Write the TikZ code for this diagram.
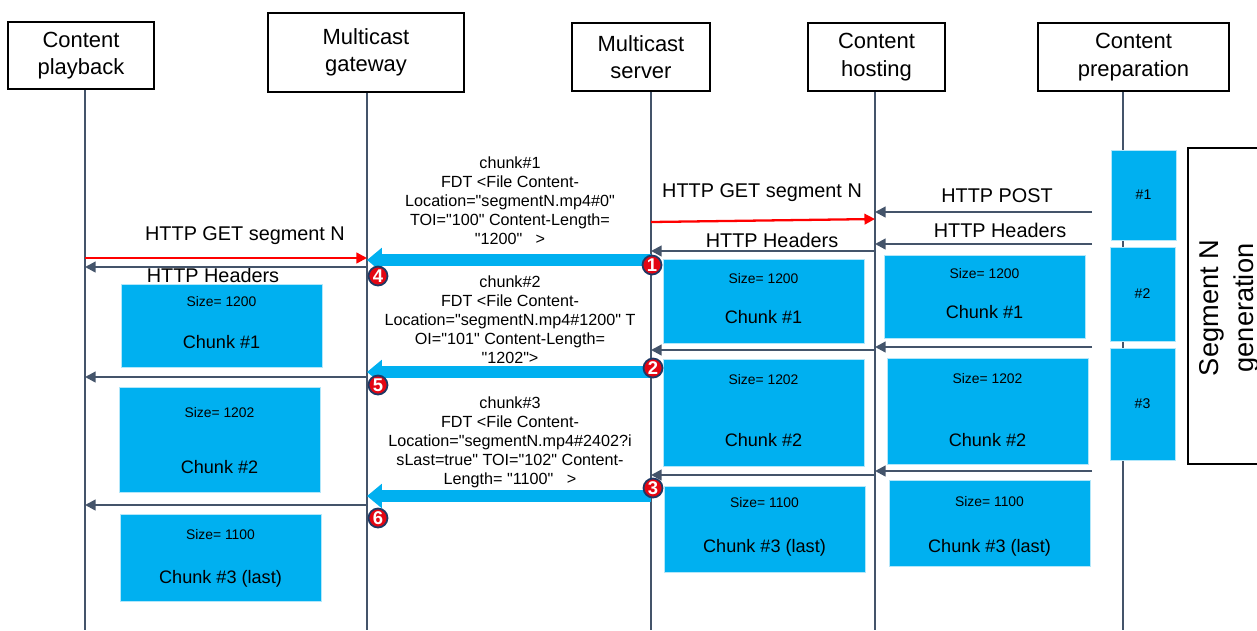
\documentclass[tikz,border=0pt]{standalone}
\usepackage{fontspec}
\setmainfont{Liberation Sans}[Ligatures=TeXOff]
\usetikzlibrary{arrows.meta}

\definecolor{lifegray}{HTML}{44546A}
\definecolor{chunkblue}{HTML}{00B0F0}
\definecolor{numred}{HTML}{E30613}
\definecolor{numnavy}{HTML}{1F3864}

\begin{document}
\begin{tikzpicture}[x=0.02cm,y=-0.02cm,
  head/.style={draw,line width=1.2pt,align=center,font=\fontsize{12.5}{15.5}\selectfont},
  life/.style={draw=lifegray,line width=1.2pt},
  msg/.style={draw=lifegray,line width=1.3pt,-{Triangle[length=6pt,width=6pt]}},
  req/.style={draw=red,line width=1.3pt,-{Triangle[length=6pt,width=6pt]}},
  push/.style={draw=chunkblue,line width=7pt,-{Triangle[length=8.5pt,width=13.5pt]}},
  lbl/.style={font=\fontsize{11.3}{13}\selectfont},
  fdt/.style={align=center,font=\fontsize{9.2}{10.8}\selectfont},
  chunk/.style={fill=chunkblue,draw=chunkblue!30,line width=0.5pt,minimum width=4.02cm},
  sz/.style={font=\fontsize{7.9}{9}\selectfont},
  ck/.style={font=\fontsize{10.3}{12}\selectfont},
  part/.style={fill=chunkblue,draw=chunkblue!30,line width=0.5pt,minimum width=1.3cm,font=\fontsize{8}{9}\selectfont},
  num/.style={circle,fill=numred,draw=numnavy,line width=1pt,text=white,inner sep=0pt,minimum size=0.38cm,font=\bfseries\fontsize{10.5}{10.5}\selectfont}]
\path[fill=white,use as bounding box] (0,0) rectangle (1257,630);

% headers
\node[head,minimum width=2.92cm,minimum height=1.34cm] (playback) at (81,55.5) {Content\\playback};
\node[head,minimum width=3.92cm,minimum height=1.58cm] (gateway) at (366,52.5) {Multicast\\gateway};
\node[head,minimum width=2.76cm,minimum height=1.36cm] (server) at (641,57) {Multicast\\server};
\node[head,minimum width=2.74cm,minimum height=1.36cm] (hosting) at (876.5,57) {Content\\hosting};
\node[head,minimum width=3.82cm,minimum height=1.36cm] (prep) at (1133.5,57) {Content\\preparation};

% lifelines
\coordinate (lp) at (85,630);
\coordinate (lg) at (367,630);
\coordinate (ls) at (651,630);
\coordinate (lh) at (875,630);
\coordinate (lc) at (1123,630);
\coordinate (le) at (1092,630);
\draw[life] (playback.south -| lp) -- (lp);
\draw[life] (gateway.south -| lg) -- (lg);
\draw[life] (server.south -| ls) -- (ls);
\draw[life] (hosting.south -| lh) -- (lh);
\draw[life] (prep.south -| lc) -- (lc);

% segment N generation
\node[part,minimum height=1.80cm] (p1) at (1143.5,195) {\#1};
\node[part,minimum height=1.88cm] (p2) at (1142.5,294) {\#2};
\node[part,minimum height=2.24cm] (p3) at (1142.5,404) {\#3};
\node[draw,line width=1.2pt,minimum width=1.84cm,minimum height=6.32cm] (gen) at (1234,306) {};
\node[rotate=90,align=center,font=\fontsize{15.5}{19.8}\selectfont] (gentext) at (1229,308) {Segment N\\generation};

% chunks at playback
\node[chunk,minimum height=1.66cm] (pc1) at (221.5,325.5) {};
\node[sz] at (221.5,302) {Size= 1200};
\node[ck] at (221.5,342) {Chunk \#1};
\node[chunk,minimum height=2.10cm] (pc2) at (219.5,439.5) {};
\node[sz] at (219.5,413) {Size= 1202};
\node[ck] at (219.5,467) {Chunk \#2};
\node[chunk,minimum height=1.74cm] (pc3) at (220.5,557.5) {};
\node[sz] at (220.5,535) {Size= 1100};
\node[ck] at (220.5,579) {Chunk \#3 (last)};

% chunks at server
\node[chunk,minimum height=1.68cm] (sc1) at (763.5,301) {};
\node[sz] at (763.5,279) {Size= 1200};
\node[ck] at (763.5,317) {Chunk \#1};
\node[chunk,minimum height=2.14cm] (sc2) at (763.5,412.5) {};
\node[sz] at (763.5,380) {Size= 1202};
\node[ck] at (763.5,440) {Chunk \#2};
\node[chunk,minimum height=1.72cm] (sc3) at (764.5,529) {};
\node[sz] at (764.5,503) {Size= 1100};
\node[ck] at (764.5,548) {Chunk \#3 (last)};

% chunks at hosting
\node[chunk,minimum height=1.66cm] (hc1) at (984.5,296.5) {};
\node[sz] at (984.5,274) {Size= 1200};
\node[ck] at (984.5,312) {Chunk \#1};
\node[chunk,minimum height=2.12cm] (hc2) at (987.5,411) {};
\node[sz] at (987.5,379) {Size= 1202};
\node[ck] at (987.5,440) {Chunk \#2};
\node[chunk,minimum height=1.72cm] (hc3) at (989.5,523) {};
\node[sz] at (989.5,502) {Size= 1100};
\node[ck] at (989.5,548) {Chunk \#3 (last)};

% HTTP messages
\node[lbl] (getS) at (762,193) {HTTP GET segment N};
\node[lbl] (post) at (997,196) {HTTP POST};
\node[lbl] (hdrC) at (1000,230) {HTTP Headers};
\node[lbl] (hdrH) at (772,240) {HTTP Headers};
\node[lbl] (getP) at (245,236) {HTTP GET segment N};
\node[lbl] (hdrG) at (213,275) {HTTP Headers};
\draw[req] (ls |- 0,222) -- (lh |- 0,219);
\draw[msg] (le |- 0,212) -- (lh |- 0,212);
\draw[msg] (le |- 0,244) -- (lh |- 0,244);
\draw[msg] (lh |- 0,251) -- (ls |- 0,251);
\draw[req] (lp |- 0,258) -- (lg |- 0,258);
\draw[msg] (lg |- 0,267) -- (lp |- 0,267);

\draw[msg] (le |- 0,347) -- (lh |- 0,347);
\draw[msg] (lh |- 0,350) -- (ls |- 0,350);
\draw[msg] (lg |- 0,377) -- (lp |- 0,377);
\draw[msg] (le |- 0,471) -- (lh |- 0,471);
\draw[msg] (lh |- 0,475) -- (ls |- 0,475);
\draw[msg] (lg |- 0,505) -- (lp |- 0,505);

% multicast pushes
\node[fdt] (fdt1) at (510,201) {chunk\#1\\FDT <File Content-\\Location="segmentN.mp4\#0"\\TOI="100" Content-Length=\\"1200"\ \ \ >};
\node[fdt] (fdt2) at (510,320) {chunk\#2\\FDT <File Content-\\Location="segmentN.mp4\#1200" T\\OI="101" Content-Length=\\"1202">};
\node[fdt] (fdt3) at (510,442) {chunk\#3\\FDT <File Content-\\Location="segmentN.mp4\#2402?i\\sLast=true" TOI="102" Content-\\Length= "1100"\ \ \ >};
\draw[push] (ls |- 0,260) -- (lg |- 0,260);
\draw[push] (ls |- 0,372) -- (lg |- 0,372);
\draw[push] (ls |- 0,496) -- (lg |- 0,496);

\node[num] (n1) at (652,265) {1};
\node[num] (n2) at (653,368) {2};
\node[num] (n3) at (653,488) {3};
\node[num] (n4) at (378,276) {4};
\node[num] (n5) at (378,385) {5};
\node[num] (n6) at (378,518) {6};
\end{tikzpicture}
\end{document}
